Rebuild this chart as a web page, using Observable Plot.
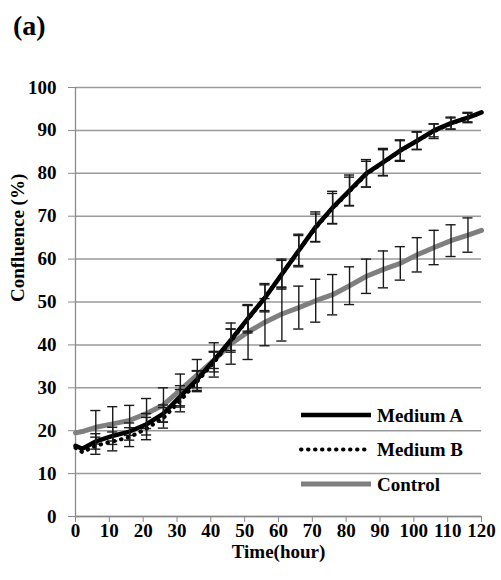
<!DOCTYPE html>
<html><head><meta charset="utf-8">
<script src="https://cdn.jsdelivr.net/npm/d3@7"></script>
<script src="https://cdn.jsdelivr.net/npm/@observablehq/plot@0.6"></script>
<style>
html,body{margin:0;padding:0;background:#fff;}
body{font-family:"Liberation Serif","Times New Roman",serif;width:501px;height:580px;overflow:hidden;}
#title{height:60px;font-weight:bold;font-size:28px;padding-left:13px;line-height:52px;color:#000;}
#chart svg{display:block;}
</style></head><body>
<div id="title">(a)</div>
<div id="chart"></div>
<script>
const hours = [0,2,6,11,16,21,26,31,36,41,46,51,56,61,66,71,76,81,86,91,96,101,106,111,116,120];
const mediumA = [16.5,15.8,17.5,18.8,19.8,21.5,24,28,32,36.5,41.2,46.2,51,56.5,62,67.5,72,76,80,82.6,85.3,87.6,90,91.7,93,94.2];
const mediumB = [16,15,16.5,17.5,18.5,20.5,23,27,31.5,36,41,46,51,56.5,62,67.3,71.8,75.8,79.8,82.5,85.3,87.6,89.8,91.6,93,94];
const control = [19.5,19.8,20.8,21.6,22.4,24,26,29.5,33,36.5,40.3,43,45.3,47.2,48.7,50.3,51.7,53.8,56,57.6,59,61,62.7,64.3,65.6,66.7];
const errHours = [6,11,16,21,26,31,36,41,46,51,56,61,66,71,76,81,86,91,96,101,106,111,116];
const errA = [1.8,2,2,2.5,2,2.5,2,2,2.5,3,3,3.5,3.5,3.5,3.8,3.6,3.2,3.2,2.3,2.1,1.5,1.4,1];
const errB = [2,2.2,2.2,2.6,2.4,2.6,2.4,2.3,2.7,3.2,3.3,3.2,3.8,3.2,3.5,3.3,3,3,2.5,2,1.7,1.3,1.2];
const errC = [3.9,4,3.5,3.5,4,3.7,3.6,4,4.8,6.4,5.5,6.3,5,5,4.7,4.4,4,4.3,3.9,4,4,3.7,4];
const seriesNames = ["Medium A","Medium B","Control"];
const xTicks = [0,10,20,30,40,50,60,70,80,90,100,110,120];
const yTicks = [0,10,20,30,40,50,60,70,80,90,100];
const xLabel = "Time(hour)";
const yLabel = "Confluence (%)";

const seriesValues = [mediumA, mediumB, control];
const lineRows = seriesNames.map((s, k) => hours.map((h, i) => ({h, v: seriesValues[k][i], s})));
const errs = [errA, errB, errC];
const errRows = seriesNames.map((s, k) => errHours.map((h, i) => {
  const c = seriesValues[k][hours.indexOf(h)];
  return {h, lo: c - errs[k][i], hi: c + errs[k][i], s};
}));
const capHalf = 1.5;
const errColor = "#1a1a1a";
const errMarks = rows => [
  Plot.ruleX(rows, {x: "h", y1: "lo", y2: "hi", stroke: errColor, strokeWidth: 1.4}),
  Plot.ruleY(rows, {y: "hi", x1: d => d.h - capHalf, x2: d => d.h + capHalf, stroke: errColor, strokeWidth: 1.4}),
  Plot.ruleY(rows, {y: "lo", x1: d => d.h - capHalf, x2: d => d.h + capHalf, stroke: errColor, strokeWidth: 1.4})
];
const styles = {
  "Medium A": {stroke: "#000", strokeWidth: 4.5},
  "Medium B": {stroke: "#000", strokeWidth: 4, strokeDasharray: "0.5,6.5", strokeLinecap: "round"},
  "Control": {stroke: "#7f7f7f", strokeWidth: 5}
};

const plot = Plot.plot({
  width: 501, height: 520,
  marginTop: 27, marginBottom: 64, marginLeft: 75, marginRight: 20,
  style: {fontFamily: "'Liberation Serif','Times New Roman',serif", fontWeight: "bold", fontSize: "19px", color: "#000", background: "#fff", overflow: "visible"},
  x: {domain: [0, 120]},
  y: {domain: [0, 100]},
  marks: [
    Plot.gridY(yTicks, {stroke: "#9a9a9a", strokeOpacity: 1, strokeWidth: 1.5}),
    Plot.ruleX([0], {stroke: "#8a8a8a", strokeWidth: 1.3}),
    Plot.ruleY([0], {stroke: "#8a8a8a", strokeWidth: 1.3}),
    Plot.axisX({ticks: xTicks, tickSize: 6, tickPadding: 1, stroke: "#8a8a8a", label: null, tickFormat: d => String(d)}),
    Plot.axisY({ticks: yTicks, tickSize: 7, tickPadding: 12, stroke: "#8a8a8a", label: null, tickFormat: d => String(d)}),
    Plot.text([xLabel], {frameAnchor: "bottom", lineAnchor: "middle", dy: 35, text: d => d, fontSize: 19, fontWeight: "bold"}),
    Plot.text([yLabel], {frameAnchor: "left", lineAnchor: "middle", dx: -58, rotate: -90, text: d => d, fontSize: 19, fontWeight: "bold"}),
    Plot.line(lineRows[2], {x: "h", y: "v", ...styles["Control"]}),
    ...errMarks(errRows[2]),
    Plot.line(lineRows[1], {x: "h", y: "v", ...styles["Medium B"]}),
    Plot.line(lineRows[0], {x: "h", y: "v", ...styles["Medium A"]}),
    ...errMarks(errRows[1]),
    ...errMarks(errRows[0])
  ]
});
document.getElementById("chart").appendChild(plot);

// legend inside the plot area (lower right)
const svg = d3.select(plot);
const lg = svg.append("g").attr("transform", "translate(301,355)");
seriesNames.forEach((name, i) => {
  const y = i * 34.5;
  const st = styles[name];
  lg.append("line").attr("x1", 0).attr("x2", 70).attr("y1", y).attr("y2", y)
    .attr("stroke", st.stroke).attr("stroke-width", st.strokeWidth)
    .attr("stroke-dasharray", st.strokeDasharray || null)
    .attr("stroke-linecap", st.strokeLinecap || "butt");
  lg.append("text").attr("x", 76).attr("y", y).attr("dy", "0.35em")
    .attr("text-anchor", "start")
    .attr("font-size", 19).attr("font-weight", "bold").attr("fill", "#000").text(name);
});
</script>
</body></html>
